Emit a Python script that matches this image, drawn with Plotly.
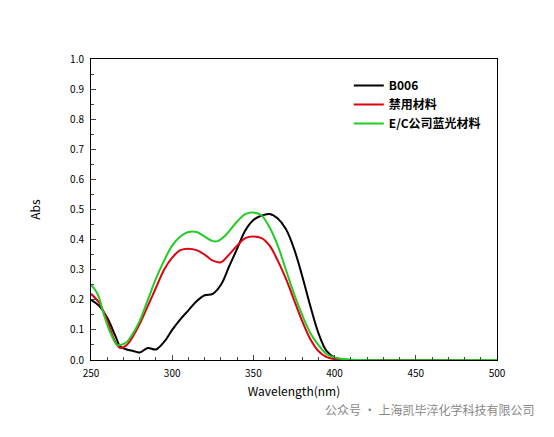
import plotly.graph_objects as go

wl_black = [250, 255, 260, 265, 268, 272, 276, 280, 285, 290, 295, 300, 305, 310, 315, 320, 325, 330, 335, 340, 345, 350, 355, 360, 365, 370, 375, 380, 385, 390, 395, 400, 405, 410, 500]
abs_black = [0.20, 0.18, 0.14, 0.08, 0.045, 0.035, 0.03, 0.025, 0.04, 0.035, 0.06, 0.10, 0.135, 0.165, 0.195, 0.215, 0.22, 0.25, 0.31, 0.37, 0.43, 0.465, 0.48, 0.485, 0.47, 0.435, 0.37, 0.28, 0.18, 0.09, 0.03, 0.008, 0.002, 0, 0]

wl_red = [250, 255, 260, 265, 268, 272, 276, 280, 285, 290, 295, 300, 305, 310, 315, 320, 325, 330, 335, 340, 345, 350, 355, 360, 365, 370, 375, 380, 385, 390, 395, 400, 405, 500]
abs_red = [0.22, 0.19, 0.13, 0.06, 0.04, 0.05, 0.08, 0.12, 0.18, 0.24, 0.30, 0.34, 0.365, 0.37, 0.365, 0.35, 0.33, 0.325, 0.35, 0.38, 0.405, 0.41, 0.405, 0.38, 0.33, 0.27, 0.20, 0.13, 0.07, 0.03, 0.01, 0.003, 0, 0]

wl_green = [250, 254, 258, 262, 266, 268, 272, 276, 280, 285, 290, 295, 300, 305, 310, 315, 320, 325, 328, 332, 340, 345, 350, 355, 360, 365, 370, 375, 380, 385, 390, 395, 400, 405, 410, 500]
abs_green = [0.25, 0.22, 0.15, 0.09, 0.05, 0.05, 0.06, 0.09, 0.13, 0.20, 0.27, 0.33, 0.38, 0.41, 0.425, 0.425, 0.41, 0.395, 0.395, 0.41, 0.46, 0.485, 0.49, 0.48, 0.44, 0.38, 0.30, 0.22, 0.15, 0.09, 0.05, 0.02, 0.008, 0.003, 0.001, 0]

fig = go.Figure()
fig.add_trace(go.Scatter(x=wl_black, y=abs_black, name="B006", mode="lines",
                         line=dict(color="black", width=2, shape="spline")))
fig.add_trace(go.Scatter(x=wl_red, y=abs_red, name="禁用材料", mode="lines",
                         line=dict(color="#e00010", width=2, shape="spline")))
fig.add_trace(go.Scatter(x=wl_green, y=abs_green, name="E/C公司蓝光材料", mode="lines",
                         line=dict(color="#22cc22", width=2, shape="spline")))

fig.update_layout(
    width=554, height=437, paper_bgcolor="white", plot_bgcolor="white",
    margin=dict(l=83, r=65, t=51, b=85),
    font=dict(family="Noto Sans CJK SC, Arial", size=10, color="black"),
    legend=dict(x=0.635, y=0.96, xanchor="left", yanchor="top",
                font=dict(size=12, family="Noto Sans CJK SC", weight="bold"),
                bgcolor="rgba(0,0,0,0)", tracegroupgap=0),
    showlegend=True,
)
fig.update_xaxes(range=[250, 500], dtick=50, ticks="inside", ticklen=5,
                 minor=dict(dtick=10, ticks="inside", ticklen=3),
                 showline=True, linecolor="black", mirror=True, showgrid=False,
                 zeroline=False, ticklabelstandoff=4,
                 title=dict(text="Wavelength(nm)", font=dict(size=12), standoff=8))
fig.update_yaxes(range=[0, 1.0], dtick=0.1, tickformat=".1f", ticks="inside", ticklen=5,
                 minor=dict(dtick=0.05, ticks="inside", ticklen=3),
                 showline=True, linecolor="black", mirror=True, showgrid=False,
                 zeroline=False, ticklabelstandoff=4,
                 title=dict(text="Abs", font=dict(size=12), standoff=26))
fig.add_annotation(text="公众号 · 上海凯毕淬化学科技有限公司", xref="paper", yref="paper",
                   x=1.095, y=-0.2, xanchor="right", showarrow=False,
                   font=dict(size=12, color="#888888", family="Noto Sans CJK SC"))

fig.write_html("out.html")
